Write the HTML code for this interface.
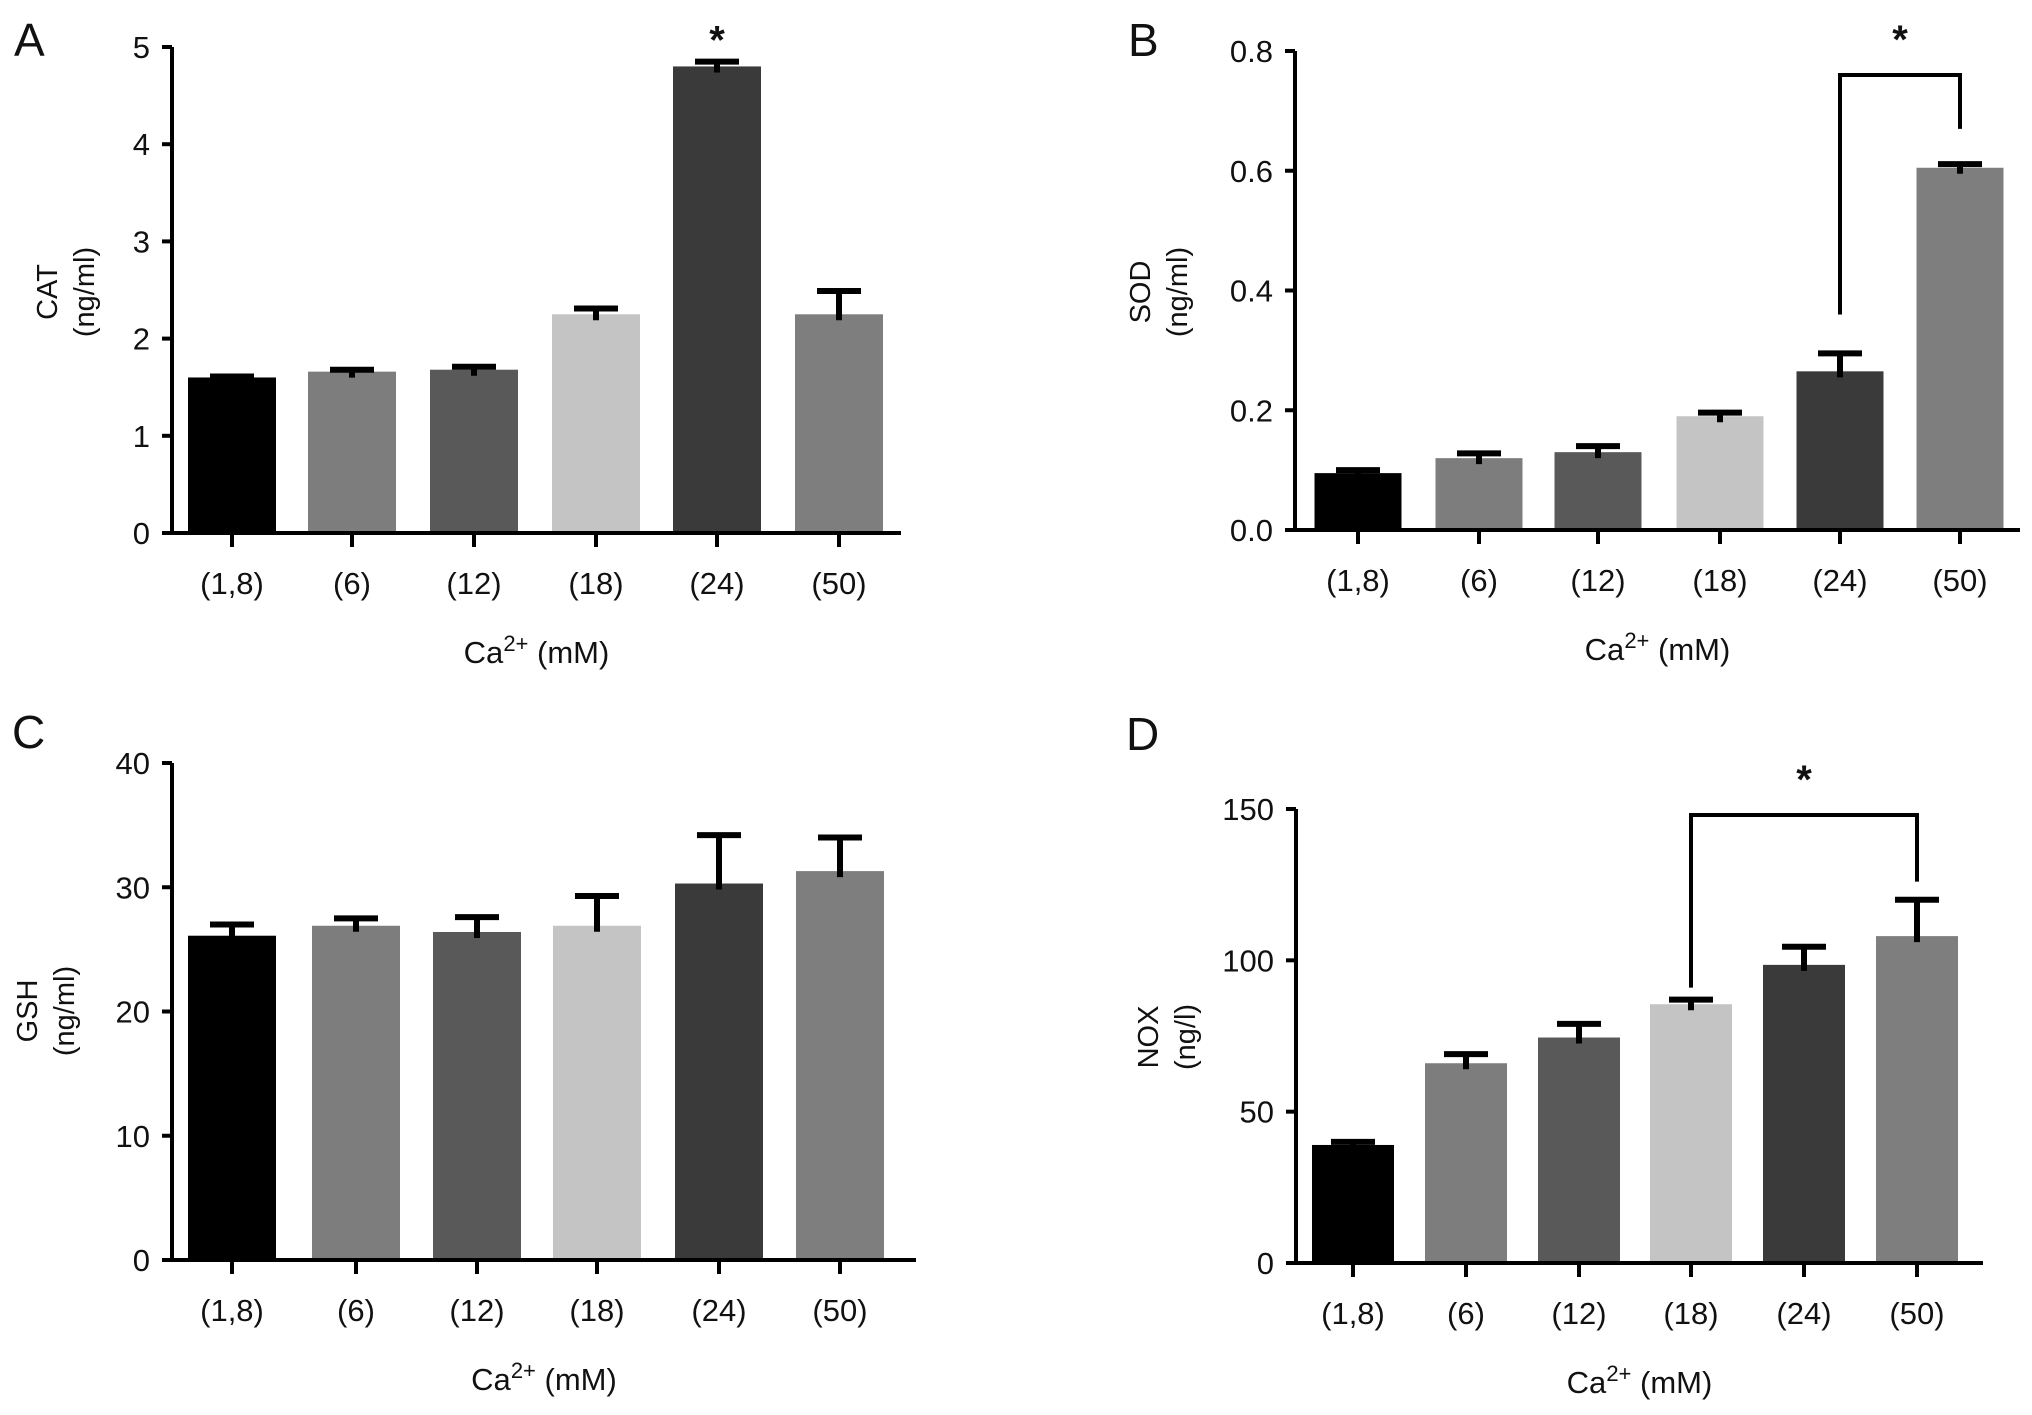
<!DOCTYPE html>
<html><head><meta charset="utf-8"><style>
html,body{margin:0;padding:0;background:#fff}
svg{display:block}
text{font-family:"Liberation Sans",sans-serif;fill:#111}
</style></head><body>
<svg id="fig" width="2032" height="1415" viewBox="0 0 2032 1415" xmlns="http://www.w3.org/2000/svg"></svg>
<script>
const categories = ["(1,8)","(6)","(12)","(18)","(24)","(50)"];
const colors = ["#000000","#7d7d7d","#595959","#c4c4c4","#3a3a3a","#7e7e7e"];
const catValues = [1.6,1.66,1.68,2.25,4.8,2.25];
const catErrors = [0.01,0.02,0.03,0.06,0.05,0.24];
const catTicks = [0,1,2,3,4,5];
const sodValues = [0.095,0.12,0.13,0.19,0.265,0.605];
const sodErrors = [0.005,0.008,0.01,0.006,0.03,0.006];
const sodTicks = [0,0.2,0.4,0.6,0.8];
const sodTickLabels = ["0.0","0.2","0.4","0.6","0.8"];
const gshValues = [26.1,26.9,26.4,26.9,30.3,31.3];
const gshErrors = [0.9,0.6,1.2,2.4,3.9,2.7];
const gshTicks = [0,10,20,30,40];
const noxValues = [39,66,74.5,85.5,98.5,108];
const noxErrors = [1,3,4.5,1.5,6,12];
const noxTicks = [0,50,100,150];

const NS="http://www.w3.org/2000/svg";
const svg=document.getElementById('fig');
function mk(tag,attrs,parent,txt){const e=document.createElementNS(NS,tag);for(const k in attrs)e.setAttribute(k,attrs[k]);if(txt!==undefined)e.textContent=txt;(parent||svg).appendChild(e);return e;}

function panel(cfg){
  const g=mk('g',{});
  
  
  const y=v=>cfg.y0-(v-cfg.min)/(cfg.max-cfg.min)*(cfg.y0-cfg.yTop);
  cfg.values.forEach((v,i)=>{
    const cx=cfg.xs[i];
    const r=mk('rect',{x:cx-cfg.bw/2,y:y(v),width:cfg.bw,height:cfg.y0-y(v),fill:colors[i]},g);
    
    
    const top=y(v+cfg.errors[i]);
    const eb=mk('path',{d:`M${cx},${y(v)+6}V${top}M${cx-22},${top}H${cx+22}`,stroke:'#000','stroke-width':6,fill:'none'},g);
    
    
  });
  const ax=mk('path',{d:`M${cfg.ax},${cfg.yTop}V${cfg.y0}H${cfg.xEnd}`,stroke:'#000','stroke-width':4,fill:'none'},g);
  
  
  cfg.ticks.forEach((t,i)=>{
    mk('line',{x1:cfg.ax-10,x2:cfg.ax,y1:y(t),y2:y(t),stroke:'#000','stroke-width':4},g);
    const tl=mk('text',{x:cfg.ax-22,y:y(t)+11,'text-anchor':'end','font-size':31},g,cfg.tickLabels?cfg.tickLabels[i]:String(t));
    
    
  });
  categories.forEach((c,i)=>{
    const cx=cfg.xs[i];
    mk('line',{x1:cx,x2:cx,y1:cfg.y0,y2:cfg.y0+14,stroke:'#000','stroke-width':4},g);
    const tl=mk('text',{x:cx,y:cfg.y0+61,'text-anchor':'middle','font-size':31},g,c);
    
    
  });
  const xt=mk('text',{x:(cfg.ax+cfg.xEnd)/2,y:cfg.y0+130,'text-anchor':'middle','font-size':31},g);
  
  
  xt.innerHTML='Ca<tspan dy="-12" font-size="22">2+</tspan><tspan dy="12"> (mM)</tspan>';
  const yt=mk('text',{transform:`translate(${cfg.ytx},${cfg.yty}) rotate(-90)`,'text-anchor':'middle','font-size':29},g);
  
  
  mk('tspan',{x:0,y:0},yt,cfg.ytitle);
  mk('tspan',{x:0,y:37},yt,cfg.yunit);
  const pl=mk('text',{x:cfg.lx,y:cfg.ly,'font-size':46},g,cfg.letter);
  
  
  if(cfg.bracket){
    const b=cfg.bracket;
    const xa=cfg.xs[b.i],xb=cfg.xs[b.j];
    const p=mk('path',{d:`M${xa},${y(b.l)}V${y(b.top)}H${xb}V${y(b.r)}`,stroke:'#000','stroke-width':4,fill:'none'},g);
    
    
    const s=mk('text',{x:(xa+xb)/2,y:y(b.top)-22,'text-anchor':'middle','font-size':40,'font-weight':'bold'},g,'*');
    
    
  }
  if(cfg.star!==undefined){
    const i=cfg.star;
    const s=mk('text',{x:cfg.xs[i],y:y(cfg.values[i]+cfg.errors[i])-8,'text-anchor':'middle','font-size':40,'font-weight':'bold'},g,'*');
    
    
  }
}

panel({name:'panel-a-cat',letter:'A',lx:14,ly:56,values:catValues,errors:catErrors,ticks:catTicks,min:0,max:5,
  y0:533,yTop:47,ax:172,xEnd:901,xs:[232,352,474,596,717,839],bw:88,ytitle:'CAT',yunit:'(ng/ml)',ytx:57,yty:292,star:4});
panel({name:'panel-b-sod',letter:'B',lx:1128,ly:56,values:sodValues,errors:sodErrors,ticks:sodTicks,tickLabels:sodTickLabels,min:0,max:0.8,
  y0:530,yTop:51,ax:1295,xEnd:2020,xs:[1358,1479,1598,1720,1840,1960],bw:87,ytitle:'SOD',yunit:'(ng/ml)',ytx:1150,yty:292,
  bracket:{i:4,j:5,l:0.36,r:0.67,top:0.76}});
panel({name:'panel-c-gsh',letter:'C',lx:12,ly:748,values:gshValues,errors:gshErrors,ticks:gshTicks,min:0,max:40,
  y0:1260,yTop:763,ax:172,xEnd:916,xs:[232,356,477,597,719,840],bw:88,ytitle:'GSH',yunit:'(ng/ml)',ytx:37,yty:1011});
panel({name:'panel-d-nox',letter:'D',lx:1126,ly:750,values:noxValues,errors:noxErrors,ticks:noxTicks,min:0,max:150,
  y0:1263,yTop:809,ax:1296,xEnd:1983,xs:[1353,1466,1579,1691,1804,1917],bw:82,ytitle:'NOX',yunit:'(ng/l)',ytx:1158,yty:1037,
  bracket:{i:3,j:5,l:91,r:126,top:148}});
</script>
</body></html>
